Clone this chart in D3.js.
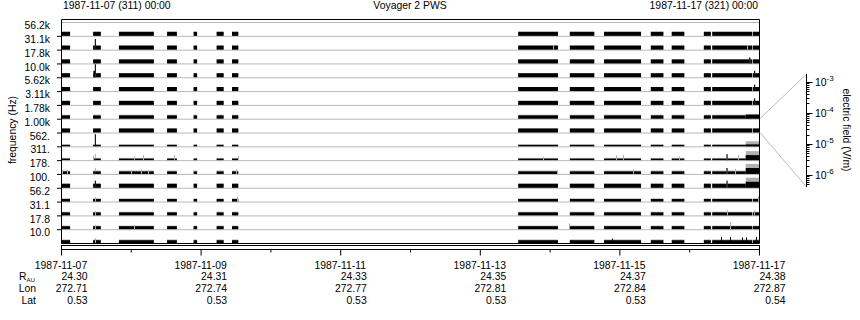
<!DOCTYPE html>
<html><head><meta charset="utf-8">
<script src="https://cdn.jsdelivr.net/npm/d3@7"></script>
<style>
body{margin:0;background:#fff;}
svg text{font-family:"Liberation Sans",Arial,sans-serif;font-size:10.4px;fill:#000;}
</style></head>
<body><svg id="c" width="860" height="320"></svg>
<script>
// ---------------- data ----------------
const channels = ["56.2k","31.1k","17.8k","10.0k","5.62k","3.11k","1.78k","1.00k","562.","311.","178.","100.","56.2","31.1","17.8","10.0"];
// data coverage intervals, days since 1987-11-07 00:00
const segments = [[0.01,0.13],[0.46,0.57],[0.83,1.33],[1.52,1.66],[1.90,1.95],[2.23,2.33],[2.45,2.54],
  [6.55,7.12],[7.29,7.64],[7.78,8.31],[8.45,8.63],[8.75,8.93],[9.21,9.31],[9.33,9.90],[9.91,10.0]];
// typical (black) and peak (gray) field per channel, V/m
const meanField = [4.7e-6,4.7e-6,4.7e-6,4.7e-6,4.7e-6,4.7e-6,3.0e-6,4.7e-6,1.0e-6,1.0e-6,1.9e-6,4.7e-6,1.9e-6,2.5e-6,2.5e-6,2.2e-6];
const peakField = [4.7e-6,5.0e-6,4.7e-6,4.7e-6,4.7e-6,4.7e-6,4.7e-6,4.7e-6,1.3e-6,1.6e-6,3.2e-6,4.7e-6,2.8e-6,3.7e-6,3.5e-6,3.5e-6];
// enhanced intervals: [startDay, endDay, channel, meanField, peakField]
const events = [
  [0.485,0.495,1,2.6e-4,2.6e-4],[0.485,0.495,3,1.1e-3,1.1e-3],[0.465,0.49,3,2.0e-5,2.0e-5],[0.485,0.495,8,6e-4,6e-4],
  [0.485,0.495,11,2.9e-5,2.9e-5],[0.485,0.495,9,1e-6,2.0e-5],[0.485,0.495,10,1.9e-6,1.5e-5],
  [9.535,9.545,9,1.5e-5,1.5e-5],[9.535,9.545,10,1.5e-5,1.5e-5],[9.535,9.545,11,2.9e-5,2.9e-5],
  [9.86,9.875,2,1.5e-5,1.5e-5],[9.93,9.945,3,2.0e-5,2.0e-5],[9.93,9.945,4,2.0e-5,2.0e-5],[9.93,9.945,5,2.0e-5,2.0e-5],
  [9.81,10.0,6,4.7e-6,7e-6],[9.81,10.0,8,1.3e-6,8.5e-6],
  [9.81,10.0,9,8.5e-6,9.6e-5],[9.81,10.0,10,1.5e-5,1.8e-4],[9.81,10.0,11,1.5e-5,1.8e-4]
];
// single-sample spikes: [day, channel, field, shade]
const spikes = [
  [0.465,9,6e-6,"g"],[1.04,9,4e-6,"g"],[1.18,9,8e-6,"g"],[1.62,9,1e-5,"g"],[2.53,9,5e-6,"g"],
  [6.9,9,3e-6,"g"],[7.95,9,8e-6,"g"],[8.05,9,1e-5,"g"],[9.7,9,8e-6,"g"],[8.85,9,4e-6,"g"],
  [0.02,10,4e-6,"g"],[0.08,10,4e-6,"g"],[1.0,10,4e-6,"g"],[1.15,10,5e-6,"g"],[1.25,10,4e-6,"g"],
  [2.5,10,6e-6,"g"],[7.1,10,5e-6,"g"],[8.2,10,5e-6,"g"],[9.65,10,8e-6,"g"],
  [0.49,12,6e-6,"g"],[2.52,12,8e-6,"g"],[9.98,12,1e-5,"g"],
  [9.54,13,1e-5,"g"],[9.93,13,1e-5,"g"],[0.49,13,5e-6,"g"],
  [7.28,14,1.5e-5,"g"],[9.59,14,3e-5,"g"],[0.49,14,6e-6,"g"],[1.05,14,5e-6,"g"],
  [0.49,15,8e-6,"g"],[7.9,15,6e-6,"k"],[9.46,15,1.5e-5,"k"],[9.59,15,1.5e-5,"k"],
  [9.75,15,1.2e-5,"k"],[9.81,15,1.2e-5,"k"],[9.96,15,1.5e-5,"k"],
  [7.05,1,6e-6,"g"],[9.83,1,8e-6,"g"]
];
const dayTicks = ["1987-11-07","1987-11-09","1987-11-11","1987-11-13","1987-11-15","1987-11-17"];
const tickDays = [0,2,4,6,8,10];
const rAU = ["24.30","24.31","24.33","24.35","24.37","24.38"];
const lon = ["272.71","272.74","272.77","272.81","272.84","272.87"];
const lat = ["0.53","0.53","0.53","0.53","0.53","0.54"];
const cbExps = [-3,-4,-5,-6];

// ---------------- layout ----------------
const L = 61, R = 759, TOPB = 19, T = 22, B = 243;
const svg = d3.select("#c");
const x = d3.scaleLinear().domain([0,10]).range([L,R]);
const rowH = (B - T) / channels.length;
const band = d3.scaleBand().domain(d3.range(channels.length)).range([T,B]).padding(0);
const fieldLo = Math.pow(10,-6.39), fieldHi = Math.pow(10,-2.75);
const rowScale = i => d3.scaleLog().domain([fieldLo, fieldHi]).range([band(i)+rowH, band(i)]).clamp(true);

// grid lines
const gridY = d3.range(channels.length).map(i => band(i));
svg.append("g").selectAll("line").data(gridY).join("line")
  .attr("x1",L).attr("x2",R).attr("y1",d=>d+0.5).attr("y2",d=>d+0.5)
  .attr("stroke","#b8b8b8").attr("stroke-width",1);

// data bars
const g = svg.append("g");
channels.forEach((c,i) => {
  const ys = rowScale(i);
  const base = band(i)+rowH;
  segments.forEach(s => {
    g.append("rect").attr("x",x(s[0])).attr("width",x(s[1])-x(s[0]))
      .attr("y",ys(peakField[i])).attr("height",base-ys(peakField[i])).attr("fill","#b0b0b0");
    g.append("rect").attr("x",x(s[0])).attr("width",x(s[1])-x(s[0]))
      .attr("y",ys(meanField[i])).attr("height",base-ys(meanField[i])).attr("fill","#000");
  });
});
spikes.forEach(s => {
  const ys = rowScale(s[1]); const base = band(s[1])+rowH;
  g.append("rect").attr("x",Math.round(x(s[0]))).attr("width",1).attr("y",ys(s[2])).attr("height",base-ys(s[2]))
    .attr("fill",s[3]==="k"?"#000":"#b0b0b0");
});
events.forEach(e => {
  const ys = rowScale(e[2]); const base = band(e[2])+rowH;
  const w = Math.max(1, x(e[1])-x(e[0]));
  g.append("rect").attr("x",x(e[0])).attr("width",w).attr("y",ys(e[4])).attr("height",base-ys(e[4])).attr("fill","#b0b0b0");
  g.append("rect").attr("x",x(e[0])).attr("width",w).attr("y",ys(e[3])).attr("height",base-ys(e[3])).attr("fill","#000");
});

// frame
svg.append("path").attr("d",`M${L+0.5},${B+0.5}V${TOPB+0.5}H${R+0.5}V${B+0.5}H${L+0.5}`)
  .attr("fill","none").attr("stroke","#000").attr("stroke-width",1);
// left ticks
svg.append("g").selectAll("line").data(gridY.slice(1)).join("line")
  .attr("x1",L-4).attr("x2",L).attr("y1",d=>d+0.5).attr("y2",d=>d+0.5).attr("stroke","#000");
// y labels
svg.append("g").selectAll("text").data(channels).join("text")
  .attr("x",50).attr("y",(d,i)=>band(i)+rowH/2-2.5).attr("text-anchor","end").attr("dominant-baseline","middle").text(d=>d);
svg.append("text").attr("transform","translate(16,130) rotate(-90)").attr("text-anchor","middle").text("frequency (Hz)");

// bottom strip
svg.append("rect").attr("x",L+0.5).attr("y",245.5).attr("width",R-L).attr("height",4).attr("fill","none").attr("stroke","#000");
// time axis
const axG = svg.append("g").attr("transform","translate(0,249.5)");
axG.call(d3.axisBottom(x).tickValues(d3.range(0,11,1)).tickSize(0).tickFormat(""));
axG.select(".domain").remove();
axG.selectAll(".tick line").remove();
axG.selectAll(".tick").append("line").attr("y1",0).attr("y2",d=>d%2===0?6:3).attr("stroke","#000");

// tick labels and ephemeris
const lab = svg.append("g");
tickDays.forEach((d,k) => {
  lab.append("text").attr("x",x(d)).attr("y",269).attr("text-anchor","middle").text(dayTicks[k]);
});
const rightEdge = k => x(tickDays[k]) + 26.5;
[[rAU,280],[lon,292],[lat,304]].forEach(([arr,yy]) => {
  arr.forEach((v,k) => lab.append("text").attr("x",rightEdge(k)).attr("y",yy).attr("text-anchor","end").text(v));
});
const rt = lab.append("text").attr("x",19).attr("y",280);
rt.append("tspan").text("R");
rt.append("tspan").attr("dy",2).style("font-size","6px").text("AU");
lab.append("text").attr("x",36).attr("y",292).attr("text-anchor","end").text("Lon");
lab.append("text").attr("x",36).attr("y",304).attr("text-anchor","end").text("Lat");

// header
svg.append("text").attr("x",63).attr("y",9).text("1987-11-07 (311) 00:00");
svg.append("text").attr("x",(L+R)/2).attr("y",9).attr("text-anchor","middle").text("Voyager 2 PWS");
svg.append("text").attr("x",758).attr("y",9).attr("text-anchor","end").text("1987-11-17 (321) 00:00");

// colorbar
const cbx = 806.5, cbTop = 74, cbBot = 187;
const cb = d3.scaleLog().domain([fieldLo, fieldHi]).range([cbBot, cbTop]);
const ref = 7;
svg.append("line").attr("x1",R+1).attr("y1",band(ref)).attr("x2",cbx).attr("y2",cbTop).attr("stroke","#bbb");
svg.append("line").attr("x1",R+1).attr("y1",band(ref)+rowH).attr("x2",cbx).attr("y2",cbBot).attr("stroke","#bbb");
svg.append("line").attr("x1",cbx).attr("x2",cbx).attr("y1",cbTop).attr("y2",cbBot).attr("stroke","#000");
const minor = [];
for (let e=-7;e<=-3;e++) for (let m=1;m<10;m++){ const v=m*Math.pow(10,e); if(v>=fieldLo && v<=fieldHi) minor.push(v); }
svg.append("g").selectAll("line").data(minor).join("line")
  .attr("x1",cbx).attr("x2",v=>cbx+(Math.abs(Math.log10(v)-Math.round(Math.log10(v)))<1e-6?6:3))
  .attr("y1",v=>Math.round(cb(v))+0.5).attr("y2",v=>Math.round(cb(v))+0.5).attr("stroke","#000");
cbExps.forEach(e => {
  const t = svg.append("text").attr("x",815).attr("y",cb(Math.pow(10,e))+4);
  t.append("tspan").text("10");
  t.append("tspan").attr("dy",-5).style("font-size","8px").text(String(e));
});
svg.append("text").attr("transform","translate(843,130) rotate(90)").attr("text-anchor","middle").text("electric field (V/m)");
</script></body></html>
